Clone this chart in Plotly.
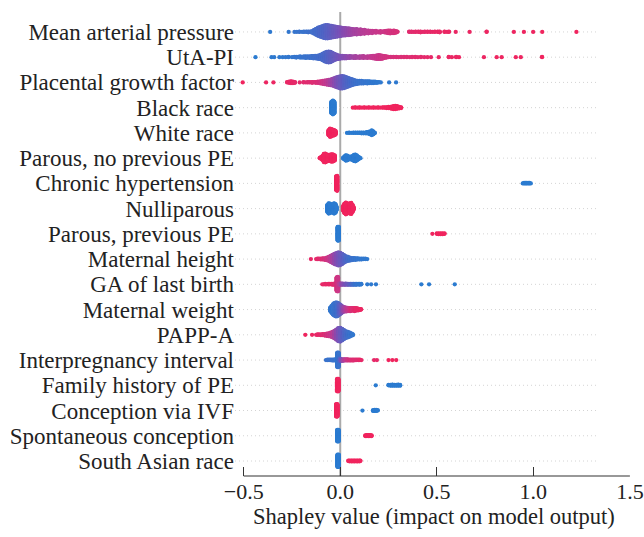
import math
import plotly.graph_objects as go

# ---- feature names (top to bottom) ----
FEATURES = [
    "Mean arterial pressure", "UtA-PI", "Placental growth factor", "Black race",
    "White race", "Parous, no previous PE", "Chronic hypertension", "Nulliparous",
    "Parous, previous PE", "Maternal height", "GA of last birth", "Maternal weight",
    "PAPP-A", "Interpregnancy interval", "Family history of PE", "Conception via IVF",
    "Spontaneous conception", "South Asian race",
]

# each entry: (shapley value, normalised feature value 0=low/blue..1=high/red, number of points)
MAP = [(-0.363, .02, 1), (-0.267, .05, 1), (-0.237, .08, 1), (-0.225, .08, 1), (-0.212, .1, 2), (-0.198, .1, 1),
       (-0.188, .1, 2), (-0.176, .12, 2), (-0.166, .12, 3), (-0.156, .14, 2), (-0.146, .15, 5),
       (-0.135, .17, 12), (-0.125, .18, 18), (-0.115, .2, 24), (-0.105, .22, 28), (-0.095, .24, 32), (-0.085, .26, 36),
       (-0.075, .28, 38), (-0.065, .3, 38), (-0.055, .33, 36), (-0.045, .35, 34), (-0.035, .38, 32), (-0.025, .4, 30),
       (-0.015, .43, 28), (-0.005, .46, 26), (0.005, .49, 24), (0.015, .52, 22), (0.025, .54, 22), (0.035, .56, 20),
       (0.045, .58, 20), (0.055, .6, 18), (0.065, .62, 16), (0.075, .64, 14), (0.085, .65, 16), (0.095, .66, 12),
       (0.105, .68, 14), (0.115, .7, 10), (0.125, .71, 12), (0.135, .72, 8), (0.145, .73, 9), (0.155, .74, 6),
       (0.165, .75, 7), (0.175, .76, 4), (0.185, .77, 6), (0.197, .78, 3), (0.208, .79, 5), (0.218, .8, 2),
       (0.228, .8, 4), (0.238, .82, 6), (0.248, .82, 8), (0.258, .84, 9), (0.268, .84, 7), (0.278, .85, 8),
       (0.288, .86, 5), (0.296, .87, 2),
       (0.357, .92, 2), (0.369, .92, 2), (0.38, .92, 1), (0.39, .93, 2), (0.404, .93, 2), (0.416, .94, 3),
       (0.428, .94, 1), (0.438, .94, 2), (0.452, .95, 2), (0.466, .95, 2), (0.478, .95, 1), (0.49, .96, 2),
       (0.505, .96, 2), (0.515, .96, 3), (0.54, .97, 2), (0.553, .97, 1), (0.563, .97, 2), (0.598, .97, 1),
       (0.67, .98, 1), (0.758, .98, 2), (0.899, .99, 1), (0.951, .99, 1), (0.999, .99, 1), (1.046, 1, 1),
       (1.223, 1, 1)]

UTA = [(-0.439, 0, 1), (-0.356, .02, 1), (-0.342, .02, 1), (-0.315, .03, 1), (-0.298, .03, 1), (-0.283, .04, 1),
       (-0.268, .05, 2), (-0.25, .05, 1), (-0.238, .06, 2), (-0.228, .07, 3), (-0.218, .08, 2), (-0.208, .08, 4),
       (-0.198, .09, 3), (-0.188, .1, 4), (-0.178, .1, 5), (-0.168, .11, 4), (-0.158, .12, 5), (-0.148, .13, 6),
       (-0.14, .14, 7), (-0.13, .15, 8), (-0.12, .16, 9), (-0.11, .17, 11), (-0.10, .19, 14), (-0.09, .21, 20),
       (-0.08, .23, 26), (-0.07, .26, 30), (-0.06, .29, 32), (-0.05, .32, 30), (-0.04, .35, 24), (-0.03, .38, 18),
       (-0.02, .41, 14), (-0.01, .44, 11), (0.0, .47, 9), (0.01, .5, 8), (0.02, .52, 7), (0.03, .54, 7),
       (0.04, .56, 5), (0.05, .58, 6), (0.06, .6, 4), (0.07, .62, 5), (0.08, .64, 6), (0.09, .65, 3),
       (0.10, .66, 5), (0.11, .68, 4), (0.12, .7, 6), (0.13, .71, 3), (0.14, .72, 5), (0.15, .73, 4),
       (0.16, .75, 6), (0.17, .76, 8), (0.18, .77, 9), (0.19, .78, 11), (0.20, .79, 12), (0.21, .8, 11),
       (0.22, .81, 9), (0.23, .82, 6), (0.24, .83, 4), (0.25, .84, 2), (0.262, .85, 2), (0.275, .86, 2),
       (0.29, .87, 2), (0.302, .88, 1), (0.315, .88, 2), (0.33, .89, 2), (0.345, .9, 2), (0.36, .9, 1),
       (0.372, .91, 2), (0.388, .92, 2), (0.402, .92, 1), (0.418, .93, 2), (0.435, .93, 1), (0.452, .94, 1),
       (0.47, .95, 1), (0.51, .96, 1), (0.562, .97, 2), (0.578, .97, 1), (0.60, .97, 2), (0.615, .98, 1),
       (0.744, .98, 1), (0.81, .99, 1), (0.836, .99, 1), (0.909, .99, 1), (0.935, .99, 1), (1.045, 1, 2)]

PLGF = [(-0.505, 1, 1), (-0.384, .98, 1), (-0.346, .98, 1), (-0.275, .96, 2), (-0.265, .96, 4), (-0.255, .95, 6),
        (-0.245, .95, 5), (-0.235, .94, 3), (-0.21, .93, 1), (-0.19, .92, 2), (-0.178, .92, 1), (-0.168, .91, 2),
        (-0.158, .9, 2), (-0.146, .9, 3), (-0.136, .89, 2), (-0.126, .88, 3), (-0.116, .87, 4), (-0.107, .85, 5),
        (-0.10, .83, 7), (-0.09, .8, 9), (-0.08, .77, 11), (-0.07, .74, 13), (-0.06, .7, 15), (-0.05, .65, 17),
        (-0.04, .6, 20), (-0.03, .55, 24), (-0.02, .5, 28), (-0.01, .45, 32), (0.0, .4, 35), (0.01, .35, 36),
        (0.02, .3, 34), (0.03, .27, 30), (0.04, .24, 26), (0.05, .21, 22), (0.06, .18, 18), (0.07, .15, 14),
        (0.08, .13, 11), (0.09, .11, 9), (0.10, .1, 8), (0.11, .09, 8), (0.12, .08, 7), (0.13, .07, 6),
        (0.14, .06, 7), (0.15, .05, 6), (0.16, .05, 5), (0.17, .04, 5), (0.18, .04, 4), (0.19, .03, 3),
        (0.20, .03, 2), (0.21, .03, 1), (0.253, .02, 1), (0.289, .02, 1)]

BLACK = [(-0.045, 0, 34), (-0.038, 0, 40), (-0.031, 0, 34),
         (0.065, 1, 1), (0.077, 1, 2), (0.089, 1, 1), (0.1, 1, 2), (0.112, 1, 1), (0.124, 1, 2), (0.136, 1, 1),
         (0.148, 1, 2), (0.16, 1, 1), (0.172, 1, 2), (0.184, 1, 1), (0.196, 1, 2), (0.208, 1, 1), (0.22, 1, 2),
         (0.23, 1, 2), (0.24, 1, 3), (0.25, 1, 4), (0.26, 1, 5), (0.268, 1, 7),
         (0.276, 1, 9), (0.285, 1, 10), (0.295, 1, 8), (0.305, 1, 5), (0.315, 1, 3)]

WHITE = [(-0.06, 1, 16), (-0.053, 1, 24), (-0.046, 1, 22), (-0.039, 1, 18), (-0.032, 1, 16), (-0.025, 1, 12),
         (0.035, 0, 1), (0.046, 0, 2), (0.057, 0, 1), (0.068, 0, 2), (0.079, 0, 2), (0.09, 0, 2), (0.1, 0, 2),
         (0.11, 0, 3), (0.12, 0, 3), (0.13, 0, 3), (0.138, 0, 4), (0.146, 0, 6), (0.155, 0, 9), (0.163, 0, 14),
         (0.171, 0, 9), (0.178, 0, 3)]

PAROUS_NO_PE = [(-0.106, 1, 2), (-0.099, 1, 6), (-0.092, 1, 12), (-0.085, 1, 24), (-0.078, 1, 26), (-0.071, 1, 22),
                (-0.064, 1, 18), (-0.057, 1, 18), (-0.05, 1, 20), (-0.043, 1, 22), (-0.036, 1, 20), (-0.029, 1, 16),
                (0.015, 0, 3), (0.022, 0, 10), (0.029, 0, 16), (0.036, 0, 14), (0.043, 0, 9), (0.050, 0, 8),
                (0.057, 0, 9), (0.064, 0, 12), (0.071, 0, 18), (0.078, 0, 20), (0.085, 0, 16), (0.092, 0, 9),
                (0.099, 0, 4), (0.105, 0, 1)]

CHRONIC_HTN = [(-0.021, 1, 40), (-0.016, 1, 43),
               (0.945, 0, 1), (0.952, 0, 2), (0.959, 0, 2), (0.966, 0, 2), (0.973, 0, 2), (0.98, 0, 2), (0.987, 0, 1)]

NULLIPAROUS = [(-0.067, 0, 20), (-0.060, 0, 30), (-0.053, 0, 28), (-0.046, 0, 22), (-0.039, 0, 24), (-0.032, 0, 30),
               (-0.025, 0, 26), (-0.02, 0, 12),
               (0.015, 1, 14), (0.022, 1, 28), (0.029, 1, 34), (0.036, 1, 30), (0.043, 1, 26), (0.050, 1, 30),
               (0.057, 1, 32), (0.064, 1, 20), (0.069, 1, 8)]

PAROUS_PE = [(-0.013, 0, 40), (-0.008, 0, 40),
             (0.477, 1, 1), (0.50, 1, 2), (0.51, 1, 3), (0.52, 1, 3), (0.53, 1, 3), (0.54, 1, 2)]

HEIGHT = [(-0.152, .95, 1), (-0.125, .95, 1), (-0.118, .93, 2), (-0.11, .92, 2), (-0.10, .9, 3), (-0.09, .88, 4),
          (-0.08, .85, 5), (-0.07, .82, 8), (-0.06, .78, 12), (-0.05, .72, 18), (-0.04, .65, 24), (-0.03, .58, 30),
          (-0.02, .52, 34), (-0.01, .46, 38), (0.0, .4, 36), (0.01, .34, 30), (0.02, .28, 22), (0.03, .23, 16),
          (0.04, .18, 12), (0.05, .14, 9), (0.06, .11, 7), (0.07, .09, 6), (0.08, .07, 5), (0.09, .06, 4),
          (0.10, .05, 3), (0.11, .05, 3), (0.12, .04, 2), (0.13, .04, 2), (0.14, .03, 1)]

GA_LAST = [(-0.093, .95, 1), (-0.085, .95, 1), (-0.078, .95, 2), (-0.07, .95, 1), (-0.062, .95, 2), (-0.054, .95, 2),
           (-0.046, .95, 2), (-0.038, .93, 3), (-0.03, .9, 4), (-0.018, .85, 40), (-0.012, .8, 42), (-0.004, .7, 6),
           (0.005, .6, 4), (0.013, .55, 4), (0.021, .5, 3), (0.029, .45, 4), (0.037, .4, 3), (0.045, .35, 3),
           (0.053, .3, 3), (0.061, .2, 3), (0.069, .15, 3), (0.077, .1, 3), (0.085, .08, 3), (0.093, .05, 2),
           (0.101, .05, 3), (0.109, .03, 2), (0.14, .02, 1), (0.16, .02, 1), (0.185, .02, 1), (0.42, 0, 1),
           (0.46, 0, 1), (0.593, 0, 1)]

WEIGHT = [(-0.052, .05, 10), (-0.045, .05, 20), (-0.038, .08, 30), (-0.031, .1, 36), (-0.024, .12, 40),
          (-0.017, .15, 40), (-0.010, .2, 36), (-0.003, .3, 30), (0.004, .4, 24), (0.011, .5, 18), (0.018, .6, 14),
          (0.025, .65, 12), (0.032, .7, 11), (0.039, .75, 10), (0.046, .8, 9), (0.053, .85, 9), (0.06, .88, 8),
          (0.067, .9, 8), (0.074, .92, 9), (0.081, .94, 8), (0.088, .95, 6), (0.095, .96, 5), (0.102, .97, 3),
          (0.108, .98, 2)]

PAPPA = [(-0.181, 1, 1), (-0.146, .98, 1), (-0.125, .96, 1), (-0.118, .95, 2), (-0.11, .94, 2), (-0.10, .92, 3),
         (-0.09, .9, 4), (-0.08, .88, 5), (-0.07, .85, 7), (-0.06, .82, 9), (-0.05, .78, 12), (-0.04, .72, 16),
         (-0.03, .64, 22), (-0.02, .56, 30), (-0.01, .48, 38), (0.0, .4, 40), (0.01, .32, 34), (0.02, .25, 26),
         (0.03, .19, 20), (0.04, .14, 16), (0.05, .1, 12), (0.06, .07, 6), (0.065, .05, 3)]

INTERPREG = [(-0.074, .1, 1), (-0.066, .1, 2), (-0.058, .1, 2), (-0.05, .1, 2), (-0.042, .1, 3), (-0.034, .1, 3),
             (-0.026, .1, 4), (-0.015, .05, 42), (-0.009, .1, 42), (-0.002, .3, 8), (0.006, .5, 5), (0.014, .6, 5),
             (0.022, .7, 4), (0.03, .75, 4), (0.038, .8, 4), (0.046, .85, 3), (0.054, .85, 3), (0.062, .9, 3),
             (0.07, .9, 3), (0.078, .9, 2), (0.086, .92, 2), (0.094, .92, 2), (0.102, .95, 2), (0.11, .95, 1),
             (0.175, .95, 1), (0.19, .95, 1), (0.25, 1, 1), (0.27, 1, 1), (0.29, 1, 1)]

FAMILY_PE = [(-0.016, 1, 36), (-0.01, 1, 36),
             (0.184, 0, 1), (0.25, 0, 2), (0.26, 0, 3), (0.27, 0, 4), (0.28, 0, 3), (0.29, 0, 3), (0.30, 0, 4),
             (0.31, 0, 3)]

IVF = [(-0.021, 1, 36), (-0.015, 1, 36),
       (0.115, 0, 1), (0.17, 0, 3), (0.178, 0, 4), (0.186, 0, 4), (0.194, 0, 2)]

SPONTANEOUS = [(-0.015, 0, 34), (-0.009, 0, 34),
               (0.13, 1, 3), (0.138, 1, 4), (0.146, 1, 4), (0.154, 1, 4), (0.162, 1, 3)]

SOUTH_ASIAN = [(-0.014, 0, 36), (-0.008, 0, 36),
               (0.042, 1, 2), (0.05, 1, 3), (0.058, 1, 3), (0.066, 1, 3), (0.074, 1, 3), (0.082, 1, 3),
               (0.09, 1, 3), (0.098, 1, 3), (0.104, 1, 2)]

ROWS = [MAP, UTA, PLGF, BLACK, WHITE, PAROUS_NO_PE, CHRONIC_HTN, NULLIPAROUS, PAROUS_PE, HEIGHT,
        GA_LAST, WEIGHT, PAPPA, INTERPREG, FAMILY_PE, IVF, SPONTANEOUS, SOUTH_ASIAN]

X_TICKS = [-0.5, 0.0, 0.5, 1.0, 1.5]
X_TICK_TEXT = ["\u22120.5", "0.0", "0.5", "1.0", "1.5"]

# ---- beeswarm layout (stack duplicate values vertically) ----
DELTA = 0.0139  # vertical spacing between stacked points, in row units
n_rows = len(FEATURES)
xs, ys, cs = [], [], []
for i, row in enumerate(ROWS):
    pos = n_rows - 1 - i
    for (x, c, n) in row:
        for k in range(n):
            off = math.ceil(k / 2) * (1 if k % 2 else -1)
            xs.append(x)
            ys.append(pos + off * DELTA)
            cs.append(c)

colorscale = [[0.0, "#2b7bd0"], [0.25, "#4f67c6"], [0.5, "#7f4fb5"], [0.75, "#c23a90"], [1.0, "#f0245e"]]

fig = go.Figure()
fig.add_trace(go.Scatter(
    x=xs, y=ys, mode="markers",
    marker=dict(size=4.3, color=cs, colorscale=colorscale, cmin=0, cmax=1, showscale=False,
                line=dict(width=0)),
    hoverinfo="skip", cliponaxis=False, showlegend=False,
))

shapes = []
for p in range(n_rows):
    shapes.append(dict(type="line", xref="x", yref="y", x0=-0.545, x1=1.325, y0=p, y1=p,
                       line=dict(color="#d4d4d4", width=1, dash="1px,3px"), layer="below"))
shapes.append(dict(type="line", xref="x", yref="paper", x0=0, x1=0, y0=0, y1=1,
                   line=dict(color="#aaaaaa", width=2), layer="below"))
shapes.append(dict(type="line", xref="x", yref="paper", x0=-0.5, x1=1.5, y0=0, y1=0,
                   line=dict(color="#333333", width=1.2)))

font_family = "Liberation Serif"
fig.update_layout(
    width=644, height=537,
    margin=dict(l=235, r=14, t=12, b=61),
    paper_bgcolor="white", plot_bgcolor="white",
    shapes=shapes,
    font=dict(family=font_family, color="#222222"),
    xaxis=dict(range=[-0.545, 1.5005], tickvals=X_TICKS, ticktext=X_TICK_TEXT,
               ticks="inside", ticklen=9, tickwidth=1, tickcolor="#333333",
               showgrid=False, zeroline=False, showline=False, automargin=False,
               tickfont=dict(size=22, family=font_family, color="#222222")),
    yaxis=dict(range=[-0.594, 17.79], tickvals=list(range(n_rows)),
               ticktext=list(reversed(FEATURES)), ticks="",
               showgrid=False, zeroline=False, showline=False, automargin=False,
               tickfont=dict(size=23, family=font_family, color="#222222")),
    annotations=[dict(text="Shapley value (impact on model output)", xref="paper", yref="paper",
                      x=0.503, y=-0.088, xanchor="center", yanchor="middle", showarrow=False,
                      font=dict(size=22.5, family=font_family, color="#222222"))],
)

fig.write_html("out.html", config={"displayModeBar": False},
               post_script="document.body.style.margin='0';")
